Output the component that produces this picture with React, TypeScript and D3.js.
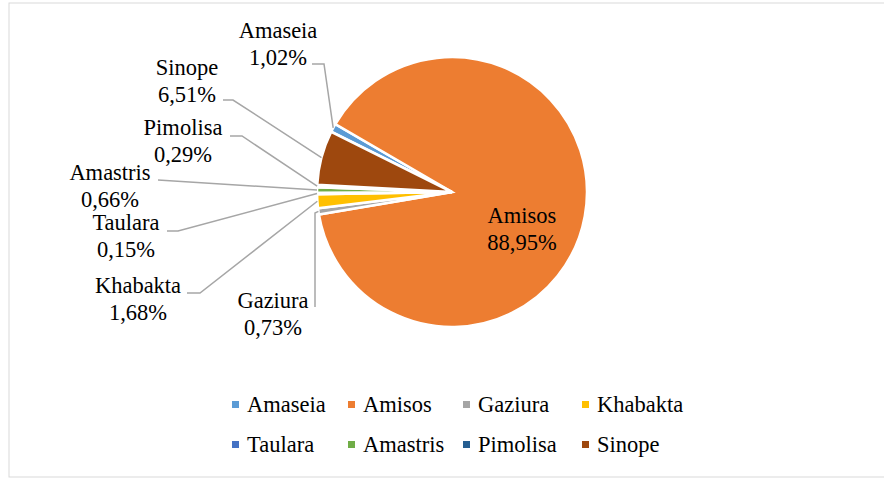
import React from "react";
import * as d3 from "d3";

const categories = ["Amaseia", "Amisos", "Gaziura", "Khabakta", "Taulara", "Amastris", "Pimolisa", "Sinope"];
const values = [1.02, 88.95, 0.73, 1.68, 0.15, 0.66, 0.29, 6.51];
const valueLabels = ["1,02%", "88,95%", "0,73%", "1,68%", "0,15%", "0,66%", "0,29%", "6,51%"];
const colors = ["#5B9BD5", "#ED7D31", "#A5A5A5", "#FFC000", "#4472C4", "#70AD47", "#255E91", "#9E480E"];

// label layout: text centre x, first baseline y, leader start point(s)
const labelLayout: { x: number; y: number; inside?: boolean; leader: [number, number][] }[] = [
  { x: 278, y: 38, leader: [[312, 64], [324, 64]] },
  { x: 522, y: 223, inside: true, leader: [] },
  { x: 273, y: 308, leader: [[315, 307], [315, 213]] },
  { x: 138, y: 293, leader: [[187, 293], [200, 293]] },
  { x: 126, y: 230, leader: [[167, 231], [178, 231]] },
  { x: 110, y: 180, leader: [[158, 180]] },
  { x: 183, y: 135, leader: [[230, 136], [242, 136]] },
  { x: 187, y: 75, leader: [[223, 100], [233, 100]] },
];

const W = 884, H = 480;
const cx = 452, cy = 192, R = 135;
const startDeg = 296.5;
const FONT = "'Liberation Serif', 'DejaVu Serif', 'Times New Roman', Times, serif";
const FS = 22.5;
const LH = 26.5;

export default function App() {
  const start = (startDeg * Math.PI) / 180;
  const pie = d3.pie<number>().sort(null).startAngle(start).endAngle(start + 2 * Math.PI);
  const arcs = pie(values);
  const arc = d3.arc<d3.PieArcDatum<number>>().innerRadius(0).outerRadius(R);

  const legendCols = [232, 348, 463, 582];
  const legendRows = [412, 452];

  return (
    <svg width={W} height={H} style={{ position: "absolute", left: 0, top: 0, background: "#fff" }}>
      <rect x={9} y={3} width={W} height={474} fill="#fff" stroke="#D9D9D9" strokeWidth={1} />
      <g transform={`translate(${cx},${cy})`}>
        {arcs.map((a, i) => (
          <path key={i} d={arc(a) || ""} fill={colors[i]} stroke="#fff" strokeWidth={2.6} strokeLinejoin="miter" />
        ))}
      </g>
      {arcs.map((a, i) => {
        const L = labelLayout[i];
        if (L.inside) return null;
        const mid = (a.startAngle + a.endAngle) / 2;
        const px = cx + R * Math.sin(mid);
        const py = cy - R * Math.cos(mid);
        const pts = [...L.leader, [px, py]] as [number, number][];
        return (
          <path key={"l" + i} d={d3.line()(pts) || ""} fill="none" stroke="#A6A6A6" strokeWidth={1.5} />
        );
      })}
      {arcs.map((a, i) => {
        const L = labelLayout[i];
        return (
          <text key={"t" + i} x={L.x} y={L.y} textAnchor="middle" fontSize={FS} fill="#000" fontFamily={FONT}>
            <tspan x={L.x} y={L.y}>{categories[i]}</tspan>
            <tspan x={L.x} y={L.y + LH}>{valueLabels[i]}</tspan>
          </text>
        );
      })}
      {categories.map((c, i) => {
        const col = i % 4;
        const row = Math.floor(i / 4);
        const x = legendCols[col];
        const y = legendRows[row];
        return (
          <g key={"lg" + i}>
            <rect x={x} y={y - 11} width={7} height={7} fill={colors[i]} />
            <text x={x + 15} y={y} fontSize={FS} fill="#000" fontFamily={FONT}>{c}</text>
          </g>
        );
      })}
    </svg>
  );
}
